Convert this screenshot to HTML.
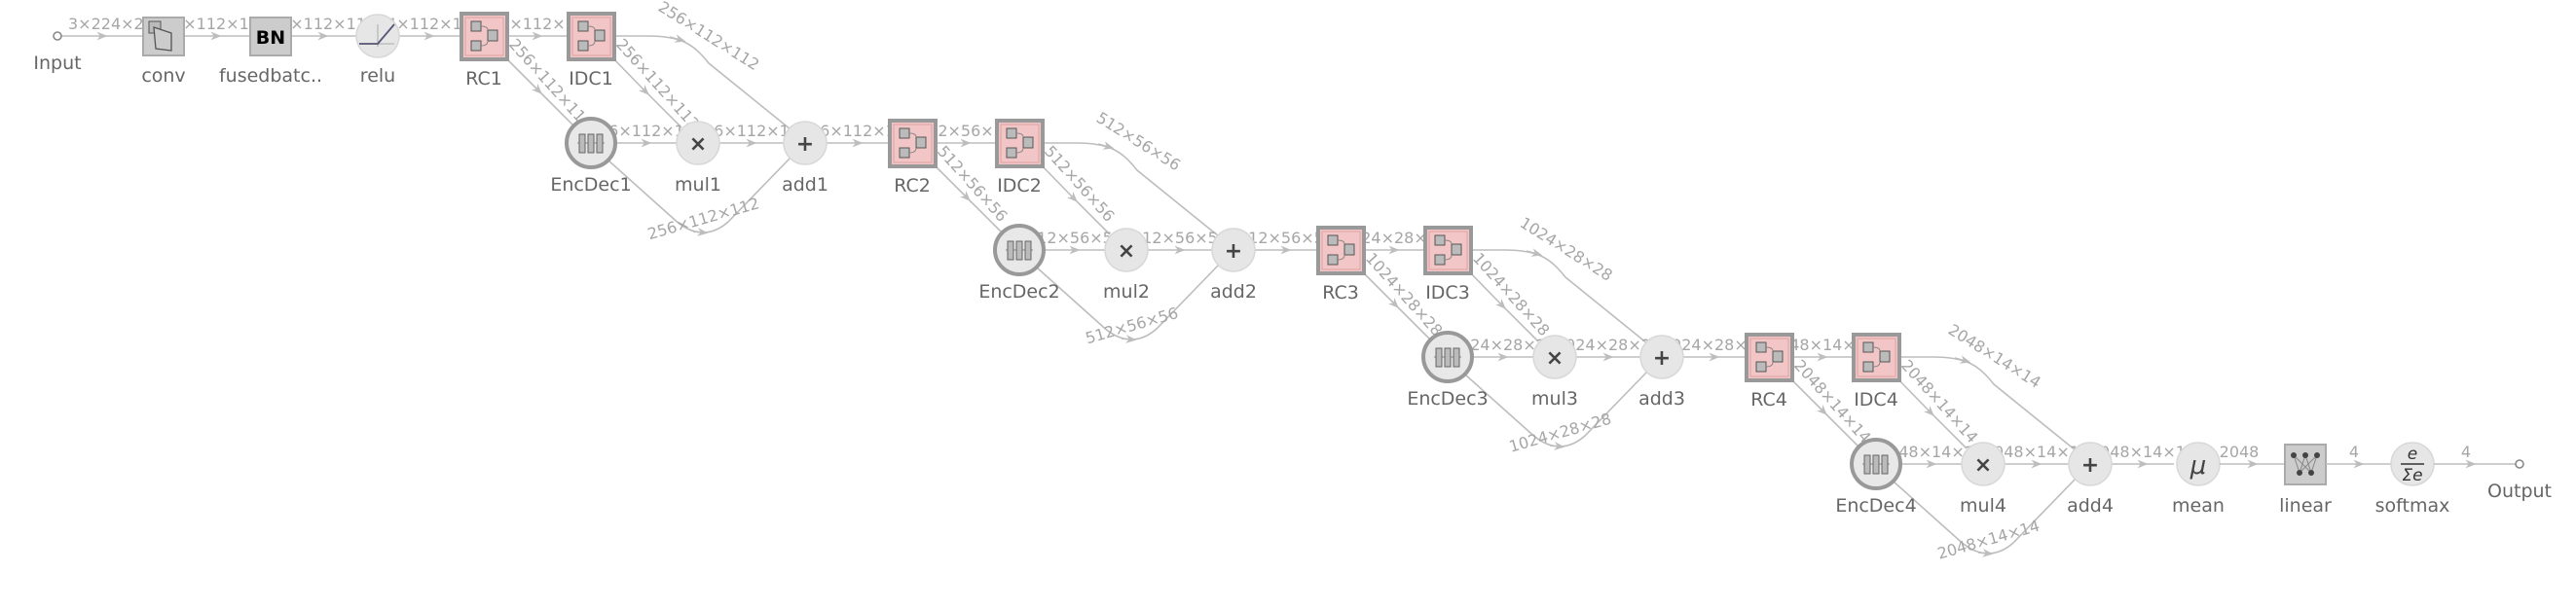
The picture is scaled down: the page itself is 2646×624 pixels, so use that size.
<!DOCTYPE html>
<html><head><meta charset="utf-8"><style>
html,body{margin:0;padding:0;background:#fff;}
svg{display:block;font-family:"DejaVu Sans","Liberation Sans",sans-serif;}
.e{fill:none;stroke:#bdbdbd;stroke-width:1.6;}
.el{font-size:16px;fill:#a6a6a6;}
.nl{font-size:19px;fill:#666;text-anchor:middle;}
.op{fill:#e6e6e6;stroke:#d8d8d8;stroke-width:1.5;}
.sym{font-size:22px;font-weight:bold;fill:#444;text-anchor:middle;}
</style></head><body>
<svg width="2646" height="624" viewBox="0 0 2646 624" xmlns="http://www.w3.org/2000/svg">
<defs>
<marker id="a" viewBox="0 0 10 8" refX="5" refY="4" markerWidth="11" markerHeight="9" orient="auto" markerUnits="userSpaceOnUse"><path d="M0,0 L10,4 L0,8 L3,4z" fill="#bdbdbd"/></marker>
</defs>

<!-- head -->
<path class="e" d="M63,37 L105,37 L147,37" marker-mid="url(#a)"/>
<text class="el" x="70" y="30">3×224×224</text>
<path class="e" d="M189,37 L222,37 L256,37" marker-mid="url(#a)"/>
<text class="el" x="222" y="30" text-anchor="middle">64×112×112</text>
<path class="e" d="M299,37 L332,37 L366,37" marker-mid="url(#a)"/>
<text class="el" x="332" y="30" text-anchor="middle">64×112×112</text>
<path class="e" d="M410,37 L441,37 L473,37" marker-mid="url(#a)"/>
<text class="el" x="441" y="30" text-anchor="middle">64×112×112</text>

<circle cx="59" cy="37" r="4" fill="#fff" stroke="#888" stroke-width="1.6"/>
<text class="nl" x="59" y="71">Input</text>
<rect x="147" y="18" width="42" height="39" fill="#ccc" stroke="#aaa" stroke-width="2"/>
<rect x="153" y="22" width="12" height="12" fill="#bbb" stroke="#555"/>
<polygon points="158,28 176,34 176,52 160,50" fill="#ccc" stroke="#555" stroke-width="1.3"/>
<text class="nl" x="168" y="84">conv</text>
<rect x="257" y="18" width="42" height="39" fill="#ccc" stroke="#aaa" stroke-width="2"/>
<text x="278" y="45" font-size="19" font-weight="bold" text-anchor="middle" fill="#000">BN</text>
<text class="nl" x="278" y="84">fusedbatc..</text>
<circle cx="388" cy="37" r="22" class="op"/>
<path d="M370,45 H405 M388,25 V48" stroke="#aaa" stroke-width="1" fill="none"/>
<path d="M369,45 H388 L405,25" stroke="#557" stroke-width="1.8" fill="none"/>
<text class="nl" x="388" y="84">relu</text>

<!-- blocks -->
<g id="b1">
<path class="e" d="M521,37 L552,37 L583,37" marker-mid="url(#a)"/>
<text class="el" x="552" y="30" text-anchor="middle">256×112×112</text>
<path class="e" d="M517,57 L553,93 L589,129" marker-mid="url(#a)"/>
<text class="el" x="522" y="46" transform="rotate(48 522 46)">256×112×112</text>
<path class="e" d="M627,57 L663,94 L700,131" marker-mid="url(#a)"/>
<text class="el" x="632" y="46" transform="rotate(48 632 46)">256×112×112</text>
<path class="e" d="M631,37 L665,37 C700,37 712,45 728,65 L812,133"/>
<path class="e" d="M688,38 L699,41" marker-end="url(#a)"/>
<text class="el" x="675" y="10" transform="rotate(32 675 10)">256×112×112</text>
<path class="e" d="M632,147 L664,147 L695,147" marker-mid="url(#a)"/>
<text class="el" x="664" y="140" text-anchor="middle">256×112×112</text>
<path class="e" d="M739,147 L772,147 L805,147" marker-mid="url(#a)"/>
<text class="el" x="772" y="140" text-anchor="middle">256×112×112</text>
<path class="e" d="M625,165 L692,225 C710,242 730,244 748,228 L812,162"/>
<path class="e" d="M712,238 L722,239" marker-end="url(#a)"/>
<text class="el" x="724" y="230" text-anchor="middle" transform="rotate(-16 724 230)">256×112×112</text>
<path class="e" d="M849,147 L881,147 L913,147" marker-mid="url(#a)"/>
<text class="el" x="881" y="140" text-anchor="middle">256×112×112</text>

<rect x="474" y="14" width="47" height="47" fill="#f2c6c6" stroke="#999" stroke-width="4"/>
<rect x="478" y="18" width="39" height="39" fill="none" stroke="#dfa0a0" stroke-width="1"/>
<rect x="484" y="22" width="10" height="10" fill="#bbb" stroke="#555"/><rect x="484" y="42" width="10" height="10" fill="#bbb" stroke="#555"/><rect x="501" y="31" width="10" height="11" fill="#bbb" stroke="#555"/>
<path d="M494,27 Q501,27 501,31 M494,47 Q501,47 501,42" stroke="#888" fill="none"/>
<text class="nl" x="497" y="87">RC1</text>
<rect x="584" y="14" width="47" height="47" fill="#f2c6c6" stroke="#999" stroke-width="4"/>
<rect x="588" y="18" width="39" height="39" fill="none" stroke="#dfa0a0" stroke-width="1"/>
<rect x="594" y="22" width="10" height="10" fill="#bbb" stroke="#555"/><rect x="594" y="42" width="10" height="10" fill="#bbb" stroke="#555"/><rect x="611" y="31" width="10" height="11" fill="#bbb" stroke="#555"/>
<path d="M604,27 Q611,27 611,31 M604,47 Q611,47 611,42" stroke="#888" fill="none"/>
<text class="nl" x="607" y="87">IDC1</text>
<circle cx="607" cy="147" r="25" fill="#e8e8e8" stroke="#999" stroke-width="4"/>
<path d="M593,147 H621" stroke="#888"/>
<rect x="595" y="138" width="6" height="19" fill="#bbb" stroke="#666"/><rect x="604" y="138" width="6" height="19" fill="#bbb" stroke="#666"/><rect x="613" y="138" width="6" height="19" fill="#bbb" stroke="#666"/>
<text class="nl" x="607" y="196">EncDec1</text>
<circle cx="717" cy="147" r="22" class="op"/><text class="sym" x="717" y="155">×</text>
<text class="nl" x="717" y="196">mul1</text>
<circle cx="827" cy="147" r="22" class="op"/><text class="sym" x="827" y="155">+</text>
<text class="nl" x="827" y="196">add1</text>
</g>

<g transform="translate(440,110)">
<path class="e" d="M521,37 L552,37 L583,37" marker-mid="url(#a)"/>
<text class="el" x="552" y="30" text-anchor="middle">512×56×56</text>
<path class="e" d="M517,57 L553,93 L589,129" marker-mid="url(#a)"/>
<text class="el" x="522" y="46" transform="rotate(48 522 46)">512×56×56</text>
<path class="e" d="M627,57 L663,94 L700,131" marker-mid="url(#a)"/>
<text class="el" x="632" y="46" transform="rotate(48 632 46)">512×56×56</text>
<path class="e" d="M631,37 L665,37 C700,37 712,45 728,65 L812,133"/>
<path class="e" d="M688,38 L699,41" marker-end="url(#a)"/>
<text class="el" x="685" y="14" transform="rotate(32 685 14)">512×56×56</text>
<path class="e" d="M632,147 L664,147 L695,147" marker-mid="url(#a)"/>
<text class="el" x="664" y="140" text-anchor="middle">512×56×56</text>
<path class="e" d="M739,147 L772,147 L805,147" marker-mid="url(#a)"/>
<text class="el" x="772" y="140" text-anchor="middle">512×56×56</text>
<path class="e" d="M625,165 L692,225 C710,242 730,244 748,228 L812,162"/>
<path class="e" d="M712,238 L722,239" marker-end="url(#a)"/>
<text class="el" x="724" y="230" text-anchor="middle" transform="rotate(-16 724 230)">512×56×56</text>
<path class="e" d="M849,147 L881,147 L913,147" marker-mid="url(#a)"/>
<text class="el" x="881" y="140" text-anchor="middle">512×56×56</text>

<rect x="474" y="14" width="47" height="47" fill="#f2c6c6" stroke="#999" stroke-width="4"/>
<rect x="478" y="18" width="39" height="39" fill="none" stroke="#dfa0a0" stroke-width="1"/>
<rect x="484" y="22" width="10" height="10" fill="#bbb" stroke="#555"/><rect x="484" y="42" width="10" height="10" fill="#bbb" stroke="#555"/><rect x="501" y="31" width="10" height="11" fill="#bbb" stroke="#555"/>
<path d="M494,27 Q501,27 501,31 M494,47 Q501,47 501,42" stroke="#888" fill="none"/>
<text class="nl" x="497" y="87">RC2</text>
<rect x="584" y="14" width="47" height="47" fill="#f2c6c6" stroke="#999" stroke-width="4"/>
<rect x="588" y="18" width="39" height="39" fill="none" stroke="#dfa0a0" stroke-width="1"/>
<rect x="594" y="22" width="10" height="10" fill="#bbb" stroke="#555"/><rect x="594" y="42" width="10" height="10" fill="#bbb" stroke="#555"/><rect x="611" y="31" width="10" height="11" fill="#bbb" stroke="#555"/>
<path d="M604,27 Q611,27 611,31 M604,47 Q611,47 611,42" stroke="#888" fill="none"/>
<text class="nl" x="607" y="87">IDC2</text>
<circle cx="607" cy="147" r="25" fill="#e8e8e8" stroke="#999" stroke-width="4"/>
<path d="M593,147 H621" stroke="#888"/>
<rect x="595" y="138" width="6" height="19" fill="#bbb" stroke="#666"/><rect x="604" y="138" width="6" height="19" fill="#bbb" stroke="#666"/><rect x="613" y="138" width="6" height="19" fill="#bbb" stroke="#666"/>
<text class="nl" x="607" y="196">EncDec2</text>
<circle cx="717" cy="147" r="22" class="op"/><text class="sym" x="717" y="155">×</text>
<text class="nl" x="717" y="196">mul2</text>
<circle cx="827" cy="147" r="22" class="op"/><text class="sym" x="827" y="155">+</text>
<text class="nl" x="827" y="196">add2</text>
</g>

<g transform="translate(880,220)">
<path class="e" d="M521,37 L552,37 L583,37" marker-mid="url(#a)"/>
<text class="el" x="552" y="30" text-anchor="middle">1024×28×28</text>
<path class="e" d="M517,57 L553,93 L589,129" marker-mid="url(#a)"/>
<text class="el" x="522" y="46" transform="rotate(48 522 46)">1024×28×28</text>
<path class="e" d="M627,57 L663,94 L700,131" marker-mid="url(#a)"/>
<text class="el" x="632" y="46" transform="rotate(48 632 46)">1024×28×28</text>
<path class="e" d="M631,37 L665,37 C700,37 712,45 728,65 L812,133"/>
<path class="e" d="M688,38 L699,41" marker-end="url(#a)"/>
<text class="el" x="680" y="12" transform="rotate(32 680 12)">1024×28×28</text>
<path class="e" d="M632,147 L664,147 L695,147" marker-mid="url(#a)"/>
<text class="el" x="664" y="140" text-anchor="middle">1024×28×28</text>
<path class="e" d="M739,147 L772,147 L805,147" marker-mid="url(#a)"/>
<text class="el" x="772" y="140" text-anchor="middle">1024×28×28</text>
<path class="e" d="M625,165 L692,225 C710,242 730,244 748,228 L812,162"/>
<path class="e" d="M712,238 L722,239" marker-end="url(#a)"/>
<text class="el" x="724" y="230" text-anchor="middle" transform="rotate(-16 724 230)">1024×28×28</text>
<path class="e" d="M849,147 L881,147 L913,147" marker-mid="url(#a)"/>
<text class="el" x="881" y="140" text-anchor="middle">1024×28×28</text>

<rect x="474" y="14" width="47" height="47" fill="#f2c6c6" stroke="#999" stroke-width="4"/>
<rect x="478" y="18" width="39" height="39" fill="none" stroke="#dfa0a0" stroke-width="1"/>
<rect x="484" y="22" width="10" height="10" fill="#bbb" stroke="#555"/><rect x="484" y="42" width="10" height="10" fill="#bbb" stroke="#555"/><rect x="501" y="31" width="10" height="11" fill="#bbb" stroke="#555"/>
<path d="M494,27 Q501,27 501,31 M494,47 Q501,47 501,42" stroke="#888" fill="none"/>
<text class="nl" x="497" y="87">RC3</text>
<rect x="584" y="14" width="47" height="47" fill="#f2c6c6" stroke="#999" stroke-width="4"/>
<rect x="588" y="18" width="39" height="39" fill="none" stroke="#dfa0a0" stroke-width="1"/>
<rect x="594" y="22" width="10" height="10" fill="#bbb" stroke="#555"/><rect x="594" y="42" width="10" height="10" fill="#bbb" stroke="#555"/><rect x="611" y="31" width="10" height="11" fill="#bbb" stroke="#555"/>
<path d="M604,27 Q611,27 611,31 M604,47 Q611,47 611,42" stroke="#888" fill="none"/>
<text class="nl" x="607" y="87">IDC3</text>
<circle cx="607" cy="147" r="25" fill="#e8e8e8" stroke="#999" stroke-width="4"/>
<path d="M593,147 H621" stroke="#888"/>
<rect x="595" y="138" width="6" height="19" fill="#bbb" stroke="#666"/><rect x="604" y="138" width="6" height="19" fill="#bbb" stroke="#666"/><rect x="613" y="138" width="6" height="19" fill="#bbb" stroke="#666"/>
<text class="nl" x="607" y="196">EncDec3</text>
<circle cx="717" cy="147" r="22" class="op"/><text class="sym" x="717" y="155">×</text>
<text class="nl" x="717" y="196">mul3</text>
<circle cx="827" cy="147" r="22" class="op"/><text class="sym" x="827" y="155">+</text>
<text class="nl" x="827" y="196">add3</text>
</g>

<g transform="translate(1320,330)">
<path class="e" d="M521,37 L552,37 L583,37" marker-mid="url(#a)"/>
<text class="el" x="552" y="30" text-anchor="middle">2048×14×14</text>
<path class="e" d="M517,57 L553,93 L589,129" marker-mid="url(#a)"/>
<text class="el" x="522" y="46" transform="rotate(48 522 46)">2048×14×14</text>
<path class="e" d="M627,57 L663,94 L700,131" marker-mid="url(#a)"/>
<text class="el" x="632" y="46" transform="rotate(48 632 46)">2048×14×14</text>
<path class="e" d="M631,37 L665,37 C700,37 712,45 728,65 L812,133"/>
<path class="e" d="M688,38 L699,41" marker-end="url(#a)"/>
<text class="el" x="680" y="12" transform="rotate(32 680 12)">2048×14×14</text>
<path class="e" d="M632,147 L664,147 L695,147" marker-mid="url(#a)"/>
<text class="el" x="664" y="140" text-anchor="middle">2048×14×14</text>
<path class="e" d="M739,147 L772,147 L805,147" marker-mid="url(#a)"/>
<text class="el" x="772" y="140" text-anchor="middle">2048×14×14</text>
<path class="e" d="M625,165 L692,225 C710,242 730,244 748,228 L812,162"/>
<path class="e" d="M712,238 L722,239" marker-end="url(#a)"/>
<text class="el" x="724" y="230" text-anchor="middle" transform="rotate(-16 724 230)">2048×14×14</text>
<path class="e" d="M849,147 L881,147 L913,147" marker-mid="url(#a)"/>
<text class="el" x="881" y="140" text-anchor="middle">2048×14×14</text>

<rect x="474" y="14" width="47" height="47" fill="#f2c6c6" stroke="#999" stroke-width="4"/>
<rect x="478" y="18" width="39" height="39" fill="none" stroke="#dfa0a0" stroke-width="1"/>
<rect x="484" y="22" width="10" height="10" fill="#bbb" stroke="#555"/><rect x="484" y="42" width="10" height="10" fill="#bbb" stroke="#555"/><rect x="501" y="31" width="10" height="11" fill="#bbb" stroke="#555"/>
<path d="M494,27 Q501,27 501,31 M494,47 Q501,47 501,42" stroke="#888" fill="none"/>
<text class="nl" x="497" y="87">RC4</text>
<rect x="584" y="14" width="47" height="47" fill="#f2c6c6" stroke="#999" stroke-width="4"/>
<rect x="588" y="18" width="39" height="39" fill="none" stroke="#dfa0a0" stroke-width="1"/>
<rect x="594" y="22" width="10" height="10" fill="#bbb" stroke="#555"/><rect x="594" y="42" width="10" height="10" fill="#bbb" stroke="#555"/><rect x="611" y="31" width="10" height="11" fill="#bbb" stroke="#555"/>
<path d="M604,27 Q611,27 611,31 M604,47 Q611,47 611,42" stroke="#888" fill="none"/>
<text class="nl" x="607" y="87">IDC4</text>
<circle cx="607" cy="147" r="25" fill="#e8e8e8" stroke="#999" stroke-width="4"/>
<path d="M593,147 H621" stroke="#888"/>
<rect x="595" y="138" width="6" height="19" fill="#bbb" stroke="#666"/><rect x="604" y="138" width="6" height="19" fill="#bbb" stroke="#666"/><rect x="613" y="138" width="6" height="19" fill="#bbb" stroke="#666"/>
<text class="nl" x="607" y="196">EncDec4</text>
<circle cx="717" cy="147" r="22" class="op"/><text class="sym" x="717" y="155">×</text>
<text class="nl" x="717" y="196">mul4</text>
<circle cx="827" cy="147" r="22" class="op"/><text class="sym" x="827" y="155">+</text>
<text class="nl" x="827" y="196">add4</text>
</g>

<!-- tail: add4 at (2147,477); the add4->mean edge is drawn inside block 4 -->
<circle cx="2258" cy="477" r="22" class="op"/>
<text x="2258" y="487" font-size="26" font-style="italic" fill="#444" text-anchor="middle">μ</text>
<text class="nl" x="2258" y="526">mean</text>
<path class="e" d="M2280,477 L2314,477 L2347,477" marker-mid="url(#a)"/>
<text class="el" x="2300" y="470" text-anchor="middle">2048</text>
<rect x="2347" y="457" width="42" height="41" fill="#ccc" stroke="#aaa" stroke-width="2"/>
<path d="M2356,468 L2362,486 L2368,468 L2374,486 L2380,468 M2356,468 L2374,486 M2380,468 L2362,486" stroke="#888" fill="none"/>
<circle cx="2356" cy="468" r="3" fill="#444"/><circle cx="2368" cy="468" r="3" fill="#444"/><circle cx="2380" cy="468" r="3" fill="#444"/>
<circle cx="2362" cy="486" r="3" fill="#444"/><circle cx="2374" cy="486" r="3" fill="#444"/>
<text class="nl" x="2368" y="526">linear</text>
<path class="e" d="M2389,477 L2423,477 L2456,477" marker-mid="url(#a)"/>
<text class="el" x="2418" y="470" text-anchor="middle">4</text>
<circle cx="2478" cy="477" r="22" class="op"/>
<text x="2478" y="472" font-size="17" font-style="italic" fill="#333" text-anchor="middle">e</text>
<path d="M2466,477 H2490" stroke="#333" stroke-width="1.5"/>
<text x="2478" y="494" font-size="17" font-style="italic" fill="#333" text-anchor="middle">Σe</text>
<text class="nl" x="2478" y="526">softmax</text>
<path class="e" d="M2500,477 L2538,477 L2584,477" marker-mid="url(#a)"/>
<text class="el" x="2533" y="470" text-anchor="middle">4</text>
<circle cx="2588" cy="477" r="4" fill="#fff" stroke="#888" stroke-width="1.6"/>
<text class="nl" x="2588" y="511">Output</text>
</svg>
</body></html>
